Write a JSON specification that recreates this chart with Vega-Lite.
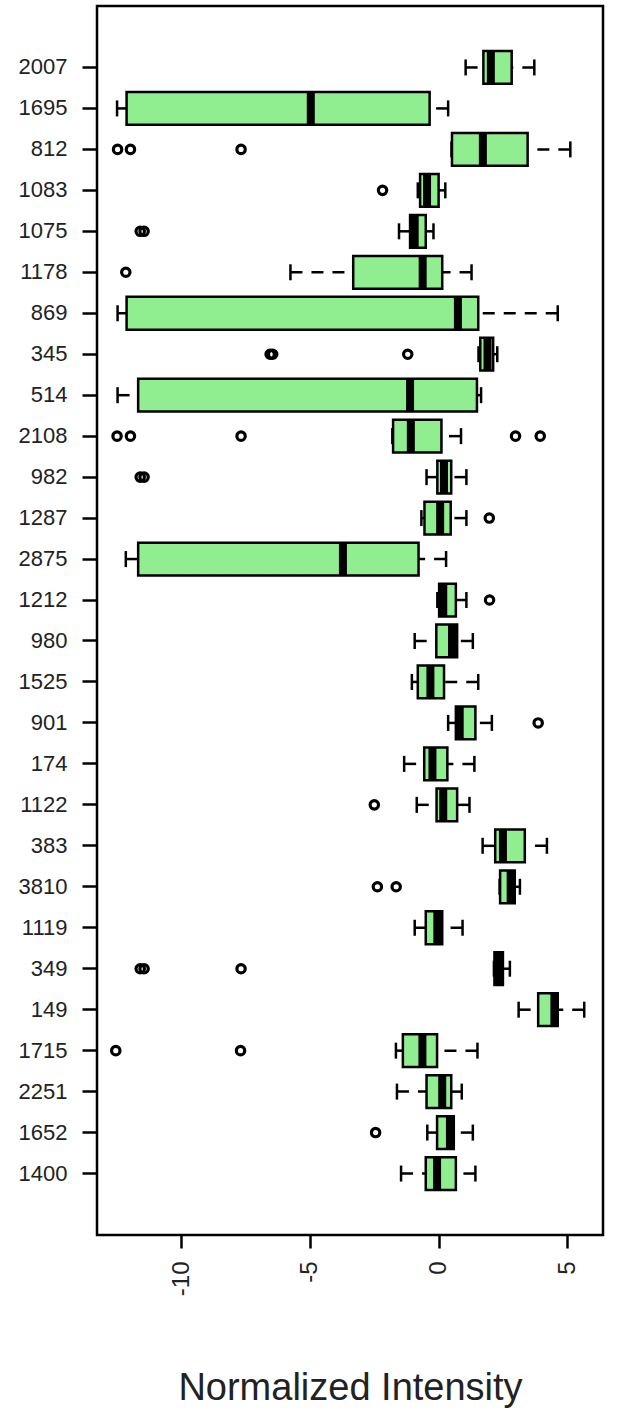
{
  "$schema": "https://vega.github.io/schema/vega-lite/v6.json",
  "width": 506,
  "height": 1229,
  "autosize": {"type": "none"},
  "padding": {"left": 97, "top": 6, "right": 14, "bottom": 174},
  "background": "white",
  "config": {
    "font": "Liberation Sans",
    "view": {"stroke": "black", "strokeWidth": 2.5},
    "axis": {"domain": false, "grid": false, "tickColor": "black", "tickWidth": 2.5, "labelColor": "#222", "titleColor": "#222"}
  },
  "datasets": {
    "boxes": [
      {"name": "2007", "lo": 1.05, "q1": 1.74, "med": 2.03, "q3": 2.84, "hi": 3.72},
      {"name": "1695", "lo": -12.5, "q1": -12.13, "med": -4.97, "q3": -0.35, "hi": 0.37},
      {"name": "812", "lo": 0.5, "q1": 0.52, "med": 1.72, "q3": 3.46, "hi": 5.12},
      {"name": "1083", "lo": -0.81, "q1": -0.72, "med": -0.45, "q3": 0.0, "hi": 0.26},
      {"name": "1075", "lo": -1.54, "q1": -1.11, "med": -0.93, "q3": -0.5, "hi": -0.2},
      {"name": "1178", "lo": -5.76, "q1": -3.32, "med": -0.62, "q3": 0.14, "hi": 1.28},
      {"name": "869", "lo": -12.48, "q1": -12.13, "med": 0.75, "q3": 1.54, "hi": 4.63},
      {"name": "345", "lo": 1.55, "q1": 1.62, "med": 1.9, "q3": 2.12, "hi": 2.28},
      {"name": "514", "lo": -12.48, "q1": -11.68, "med": -1.11, "q3": 1.49, "hi": 1.65},
      {"name": "2108", "lo": -1.8, "q1": -1.77, "med": -1.08, "q3": 0.11, "hi": 0.87},
      {"name": "982", "lo": -0.47, "q1": -0.05, "med": 0.21, "q3": 0.49, "hi": 1.08},
      {"name": "1287", "lo": -0.67, "q1": -0.55, "med": 0.06, "q3": 0.47, "hi": 1.08},
      {"name": "2875", "lo": -12.16, "q1": -11.68, "med": -3.72, "q3": -0.78, "hi": 0.29},
      {"name": "1212", "lo": -0.05, "q1": 0.02, "med": 0.18, "q3": 0.67, "hi": 1.08},
      {"name": "980", "lo": -0.93, "q1": -0.09, "med": 0.52, "q3": 0.72, "hi": 1.33},
      {"name": "1525", "lo": -1.04, "q1": -0.81, "med": -0.32, "q3": 0.21, "hi": 1.54},
      {"name": "901", "lo": 0.37, "q1": 0.67, "med": 0.82, "q3": 1.43, "hi": 2.07},
      {"name": "174", "lo": -1.34, "q1": -0.56, "med": -0.24, "q3": 0.34, "hi": 1.39},
      {"name": "1122", "lo": -0.85, "q1": -0.08, "med": 0.18, "q3": 0.72, "hi": 1.2},
      {"name": "383", "lo": 1.71, "q1": 2.2, "med": 2.5, "q3": 3.35, "hi": 4.21},
      {"name": "3810", "lo": 2.37, "q1": 2.39, "med": 2.8, "q3": 2.96, "hi": 3.16},
      {"name": "1119", "lo": -0.93, "q1": -0.5, "med": -0.05, "q3": 0.14, "hi": 0.93},
      {"name": "349", "lo": 2.15, "q1": 2.17, "med": 2.33, "q3": 2.5, "hi": 2.77},
      {"name": "149", "lo": 3.11, "q1": 3.87, "med": 4.5, "q3": 4.63, "hi": 5.66},
      {"name": "1715", "lo": -1.66, "q1": -1.39, "med": -0.63, "q3": -0.06, "hi": 1.51},
      {"name": "2251", "lo": -1.62, "q1": -0.47, "med": 0.14, "q3": 0.49, "hi": 0.9},
      {"name": "1652", "lo": -0.44, "q1": -0.06, "med": 0.44, "q3": 0.59, "hi": 1.33},
      {"name": "1400", "lo": -1.46, "q1": -0.5, "med": -0.06, "q3": 0.67, "hi": 1.43}
    ],
    "outliers": [
      {"name": "812", "value": -12.48}, {"name": "812", "value": -11.98}, {"name": "812", "value": -7.68},
      {"name": "1083", "value": -2.18},
      {"name": "1075", "value": -11.6}, {"name": "1075", "value": -11.45},
      {"name": "1178", "value": -12.16},
      {"name": "345", "value": -6.55}, {"name": "345", "value": -6.45}, {"name": "345", "value": -1.2},
      {"name": "2108", "value": -12.5}, {"name": "2108", "value": -11.98}, {"name": "2108", "value": -7.68}, {"name": "2108", "value": 2.99}, {"name": "2108", "value": 3.95},
      {"name": "982", "value": -11.6}, {"name": "982", "value": -11.45},
      {"name": "1287", "value": 1.97},
      {"name": "1212", "value": 1.98},
      {"name": "901", "value": 3.87},
      {"name": "1122", "value": -2.5},
      {"name": "3810", "value": -2.38}, {"name": "3810", "value": -1.65},
      {"name": "349", "value": -11.6}, {"name": "349", "value": -11.45}, {"name": "349", "value": -7.68},
      {"name": "1715", "value": -12.55}, {"name": "1715", "value": -7.7},
      {"name": "1652", "value": -2.45}
    ]
  },
  "data": {"name": "boxes"},
  "encoding": {
    "y": {
      "field": "name",
      "type": "nominal",
      "scale": {
        "domain": ["2007", "1695", "812", "1083", "1075", "1178", "869", "345", "514", "2108", "982", "1287", "2875", "1212", "980", "1525", "901", "174", "1122", "383", "3810", "1119", "349", "149", "1715", "2251", "1652", "1400"],
        "paddingInner": 0,
        "paddingOuter": 1.125
      },
      "axis": {"title": null, "labelFontSize": 22, "tickSize": 15, "labelPadding": 15}
    }
  },
  "layer": [
    {
      "mark": {"type": "rule", "stroke": "black", "strokeWidth": 2.5, "strokeDash": [12, 9]},
      "encoding": {
        "x": {
          "field": "lo",
          "type": "quantitative",
          "scale": {"domain": [-13.28, 6.39], "nice": false, "zero": false},
          "axis": {
            "values": [-10, -5, 0, 5],
            "labelExpr": "'' + datum.value",
            "labelAngle": -90,
            "labelFontSize": 24,
            "tickSize": 13,
            "labelPadding": 13,
            "title": "Normalized Intensity",
            "titleFontSize": 38,
            "titleFontWeight": "normal",
            "titlePadding": 74
          }
        },
        "x2": {"field": "q1"}
      }
    },
    {
      "mark": {"type": "rule", "stroke": "black", "strokeWidth": 2.5, "strokeDash": [12, 9]},
      "encoding": {
        "x": {"field": "hi", "type": "quantitative"},
        "x2": {"field": "q3"}
      }
    },
    {
      "mark": {"type": "tick", "color": "black", "opacity": 1, "size": 16, "thickness": 2.5},
      "encoding": {"x": {"field": "lo", "type": "quantitative"}}
    },
    {
      "mark": {"type": "tick", "color": "black", "opacity": 1, "size": 16, "thickness": 2.5},
      "encoding": {"x": {"field": "hi", "type": "quantitative"}}
    },
    {
      "mark": {"type": "bar", "fill": "#90EE90", "stroke": "black", "strokeWidth": 2.5, "height": {"band": 0.8}},
      "encoding": {
        "x": {"field": "q1", "type": "quantitative"},
        "x2": {"field": "q3"}
      }
    },
    {
      "mark": {"type": "tick", "color": "black", "opacity": 1, "size": 32, "thickness": 8},
      "encoding": {"x": {"field": "med", "type": "quantitative"}}
    },
    {
      "data": {"name": "outliers"},
      "mark": {"type": "point", "shape": "circle", "filled": false, "stroke": "black", "strokeWidth": 3.2, "size": 70, "opacity": 1},
      "encoding": {"x": {"field": "value", "type": "quantitative"}}
    }
  ]
}
